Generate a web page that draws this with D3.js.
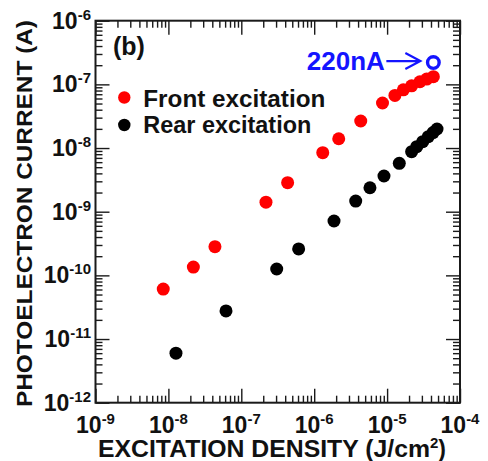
<!DOCTYPE html>
<html>
<head>
<meta charset="utf-8">
<script src="https://cdn.jsdelivr.net/npm/d3@7"></script>
<style>
  html, body { margin: 0; padding: 0; background: #fff; }
  svg { display: block; }
  text { font-family: "Liberation Sans", Arial, Helvetica, sans-serif; font-weight: bold; }
</style>
</head>
<body>
<svg id="chart" width="488" height="461"></svg>
<script>
// Photoelectron current vs. excitation density (log-log)
const frontDensity = [8.5e-9, 2.2e-8, 4.35e-8, 2.18e-7, 4.32e-7, 1.31e-6, 2.17e-6, 4.35e-6, 8.65e-6,
                      1.28e-5, 1.67e-5, 2.17e-5, 2.82e-5, 3.49e-5, 4.31e-5];
const frontCurrent = [6.1e-11, 1.35e-10, 2.82e-10, 1.41e-9, 2.86e-9, 8.45e-9, 1.40e-8, 2.66e-8, 5.1e-8,
                      6.7e-8, 8.2e-8, 9.5e-8, 1.10e-7, 1.21e-7, 1.32e-7];
const rearDensity = [1.27e-8, 6.17e-8, 3.06e-7, 6.12e-7, 1.87e-6, 3.71e-6, 5.82e-6, 9.06e-6, 1.47e-5,
                     2.17e-5, 2.55e-5, 3.08e-5, 3.67e-5, 4.27e-5, 4.84e-5];
const rearCurrent = [6.0e-12, 2.76e-11, 1.26e-10, 2.6e-10, 7.15e-10, 1.47e-9, 2.38e-9, 3.64e-9, 5.75e-9,
                     8.77e-9, 1.05e-8, 1.26e-8, 1.51e-8, 1.75e-8, 1.99e-8];
const peakDensity = [4.31e-5];
const peakCurrent = [2.2e-7];
const peakLabel = "220nA";
const seriesNames = ["Front excitation", "Rear excitation"];
const xExponents = [-9, -8, -7, -6, -5, -4];
const yExponents = [-12, -11, -10, -9, -8, -7, -6];
const panelLabel = "(b)";
const xTitle = "EXCITATION DENSITY (J/cm";
const yTitle = "PHOTOELECTRON CURRENT (A)";

const svg = d3.select("#chart");
const plotL = 95.5, plotR = 460, plotT = 20.7, plotB = 402.7;

const x = d3.scaleLog().domain([1e-9, 1e-4]).range([plotL, plotR]);
const y = d3.scaleLog().domain([1e-12, 1e-6]).range([plotB, plotT]);

const majorX = xExponents.map(e => Math.pow(10, e));
const majorY = yExponents.map(e => Math.pow(10, e));
function minors(exps) {
  const out = [];
  for (let i = 0; i < exps.length - 1; i++)
    for (let m = 2; m <= 9; m++) out.push(m * Math.pow(10, exps[i]));
  return out;
}
const minorX = minors(xExponents);
const minorY = minors(yExponents);

const axisColor = "#1a1a1a";
function styleAxis(g) {
  g.select(".domain").remove();
  g.selectAll(".tick line").attr("stroke", axisColor).attr("stroke-width", 1.4);
  g.selectAll(".tick text").remove();
}

// Inward ticks on all four sides
const axes = [
  [d3.axisBottom(x), `translate(0,${plotB})`, majorX, minorX],
  [d3.axisTop(x), `translate(0,${plotT})`, majorX, minorX],
  [d3.axisLeft(y), `translate(${plotL},0)`, majorY, minorY],
  [d3.axisRight(y), `translate(${plotR},0)`, majorY, minorY]
];
axes.forEach(([ax, tr, maj, min]) => {
  svg.append("g").attr("transform", tr)
    .call(ax.tickValues(min).tickSize(-7).tickFormat(""))
    .call(styleAxis);
  svg.append("g").attr("transform", tr)
    .call(ax.tickValues(maj).tickSize(-14).tickFormat(""))
    .call(styleAxis);
});

svg.append("rect")
  .attr("x", plotL).attr("y", plotT)
  .attr("width", plotR - plotL).attr("height", plotB - plotT)
  .attr("fill", "none").attr("stroke", axisColor).attr("stroke-width", 2);

// Tick labels as 10^n
const xl = svg.append("g").selectAll("text").data(xExponents).join("text")
  .attr("x", e => x(Math.pow(10, e))).attr("y", 433)
  .attr("text-anchor", "middle").attr("fill", "#111");
xl.append("tspan").attr("font-size", 23).text("10");
xl.append("tspan").attr("font-size", 15).attr("dy", -9).text(e => "-" + (-e));

const yl = svg.append("g").selectAll("text").data(yExponents).join("text")
  .attr("x", 91).attr("y", e => y(Math.pow(10, e)) + 8)
  .attr("text-anchor", "end").attr("fill", "#111");
yl.append("tspan").attr("font-size", 23).text("10");
yl.append("tspan").attr("font-size", 15).attr("dy", -9).text(e => "-" + (-e));

// Axis titles
const xt = svg.append("text")
  .attr("x", 98).attr("y", 456.5)
  .attr("font-size", 23).attr("fill", "#111");
xt.append("tspan").attr("textLength", 332).attr("lengthAdjust", "spacingAndGlyphs").text(xTitle);
xt.append("tspan").attr("font-size", 15).attr("dy", -9).text("2");
xt.append("tspan").attr("dy", 9).text(")");

svg.append("text")
  .attr("transform", "translate(32,213.5) rotate(-90)")
  .attr("text-anchor", "middle").attr("font-size", 22).attr("fill", "#111")
  .attr("textLength", 387).attr("lengthAdjust", "spacingAndGlyphs")
  .text(yTitle);

// Panel label
svg.append("text").attr("x", 113).attr("y", 55)
  .attr("font-size", 25).attr("fill", "#111").text(panelLabel);

// Data points
const R = 6.5;
svg.append("g").selectAll("circle").data(rearDensity.map((d, i) => [d, rearCurrent[i]])).join("circle")
  .attr("cx", d => x(d[0])).attr("cy", d => y(d[1])).attr("r", R).attr("fill", "#000");
svg.append("g").selectAll("circle").data(frontDensity.map((d, i) => [d, frontCurrent[i]])).join("circle")
  .attr("cx", d => x(d[0])).attr("cy", d => y(d[1])).attr("r", R).attr("fill", "#ff0000");

// Peak marker with annotation
const blue = "#1414ff";
svg.append("g").selectAll("circle").data(peakDensity.map((d, i) => [d, peakCurrent[i]])).join("circle")
  .attr("cx", d => x(d[0])).attr("cy", d => y(d[1])).attr("r", 5.8)
  .attr("fill", "none").attr("stroke", blue).attr("stroke-width", 3.4);
const px = x(peakDensity[0]), py = y(peakCurrent[0]);
svg.append("text").attr("x", px - 126.5).attr("y", py + 7.5)
  .attr("font-size", 25).attr("fill", blue)
  .attr("textLength", 78).attr("lengthAdjust", "spacingAndGlyphs").text(peakLabel);
svg.append("path")
  .attr("d", `M${px - 47},${py - 1.5}H${px - 13}M${px - 28},${py - 9.5}L${px - 13},${py - 1.5}L${px - 28},${py + 6.5}`)
  .attr("fill", "none").attr("stroke", blue).attr("stroke-width", 2.2);

// Legend
const legend = svg.append("g");
[["#ff0000", 97.5, 107.3, 182], ["#000", 125, 133.3, 168]].forEach(([c, cy, by, w], i) => {
  legend.append("circle").attr("cx", 124.3).attr("cy", cy).attr("r", 6.2).attr("fill", c);
  legend.append("text").attr("x", 143.3).attr("y", by).attr("font-size", 23)
    .attr("textLength", w).attr("lengthAdjust", "spacingAndGlyphs")
    .attr("fill", "#111").text(seriesNames[i]);
});
</script>
</body>
</html>
